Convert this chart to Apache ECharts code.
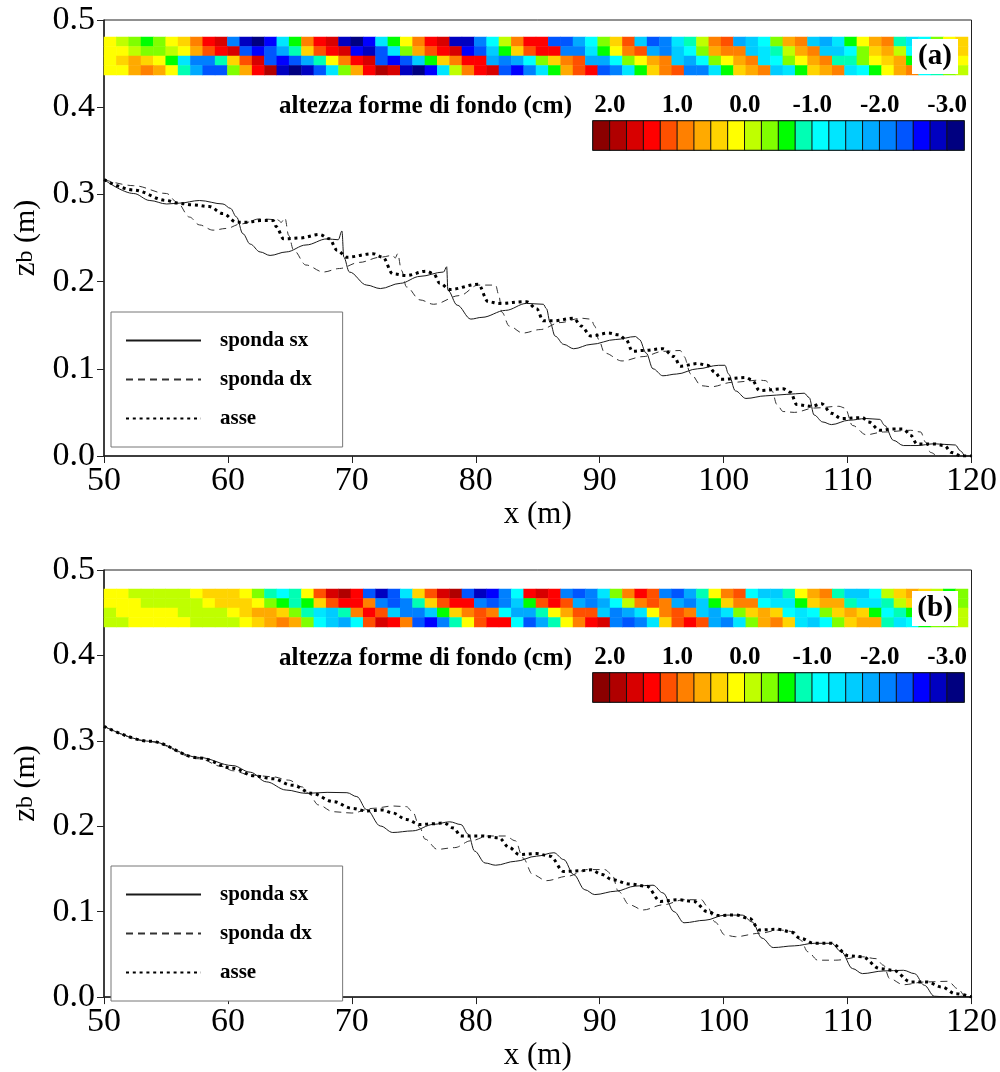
<!DOCTYPE html>
<html><head><meta charset="utf-8">
<script src="https://cdn.jsdelivr.net/npm/echarts@6/dist/echarts.min.js"></script>
<style>html,body{margin:0;padding:0;background:#fff}#c{width:1000px;height:1072px}</style>
</head><body><div id="c"></div>
<script>
// ---------------- DATA ----------------
const xTickValues = [50, 60, 70, 80, 90, 100, 110, 120];
const yTickValues = [0, 0.1, 0.2, 0.3, 0.4, 0.5];
const legendNames = ['sponda sx', 'sponda dx', 'asse'];
const colorbarTicks = [2, 1, 0, -1, -2, -3];
const colorbarTitle = 'altezza forme di fondo (cm)';
const panelLabels = ['(a)', '(b)'];

// panel (a)
const sxA = [[50.0,0.317],[52.4,0.301],[53.7,0.293],[55.05,0.289],[56.1,0.290],[57.7,0.293],[59.6,0.289],[60.2,0.284],[60.7,0.274],[61.2,0.255],[61.8,0.243],[62.6,0.234],[63.4,0.230],[64.7,0.234],[66.3,0.242],[68.0,0.249],[68.9,0.248],[69.2,0.258],[69.35,0.228],[69.8,0.211],[71.2,0.196],[72.3,0.192],[73.9,0.198],[75.5,0.206],[77.4,0.211],[77.65,0.217],[77.75,0.190],[78.5,0.173],[79.6,0.157],[80.5,0.159],[82.4,0.167],[84.1,0.175],[85.45,0.174],[85.7,0.169],[86.0,0.153],[86.4,0.1375],[87.1,0.128],[87.9,0.123],[89.3,0.128],[91.3,0.1336],[92.9,0.137],[93.2,0.1336],[93.75,0.118],[94.3,0.100],[95.1,0.092],[96.2,0.094],[97.9,0.100],[99.6,0.104],[100.1,0.104],[100.4,0.094],[100.95,0.0747],[101.8,0.066],[103.4,0.069],[105.1,0.0707],[106.5,0.072],[106.9,0.067],[107.3,0.047],[108.0,0.039],[108.7,0.036],[110.1,0.041],[111.5,0.043],[112.6,0.042],[113.0,0.035],[113.7,0.018],[114.5,0.012],[115.6,0.012],[117.0,0.014],[118.7,0.0126],[119.1,0.006],[119.5,0.0],[120,0.0]];
const dxA = [[50.0,0.317],[52.4,0.310],[55.05,0.301],[55.9,0.291],[56.9,0.274],[57.7,0.265],[58.8,0.259],[59.9,0.261],[61.0,0.266],[62.6,0.272],[64.0,0.271],[64.3,0.268],[64.6,0.273],[64.9,0.253],[65.3,0.236],[66.3,0.219],[67.7,0.211],[69.0,0.215],[70.6,0.222],[72.3,0.228],[73.3,0.230],[73.5,0.227],[73.7,0.232],[74.0,0.213],[74.4,0.194],[75.5,0.179],[76.6,0.174],[78.7,0.184],[80.2,0.196],[81.6,0.196],[81.85,0.185],[82.1,0.165],[82.7,0.149],[83.8,0.141],[85.2,0.145],[86.8,0.153],[88.5,0.158],[89.3,0.157],[89.6,0.149],[89.9,0.134],[90.4,0.118],[91.8,0.109],[93.5,0.114],[95.1,0.120],[96.5,0.121],[96.8,0.114],[97.35,0.094],[98.2,0.0806],[99.0,0.0794],[100.7,0.0845],[102.9,0.087],[103.4,0.0864],[103.9,0.0747],[104.3,0.059],[104.8,0.051],[105.7,0.050],[107.3,0.055],[109.3,0.057],[109.8,0.055],[110.4,0.035],[111.5,0.0244],[112.9,0.0275],[115.1,0.0295],[115.9,0.0275],[116.3,0.0157],[116.7,0.004],[117.3,0.0],[120,0.0]];
const axA = [[50.0,0.317],[52.4,0.305],[55.05,0.293],[55.9,0.290],[57.2,0.288],[58.5,0.286],[59.6,0.278],[60.7,0.268],[61.5,0.268],[62.6,0.270],[63.65,0.270],[63.9,0.263],[64.5,0.249],[65.8,0.250],[67.4,0.254],[68.2,0.249],[68.8,0.236],[69.6,0.228],[71.7,0.232],[72.5,0.228],[73.3,0.209],[74.4,0.207],[76.0,0.212],[76.6,0.209],[77.1,0.198],[77.9,0.191],[80.2,0.197],[81.0,0.177],[81.85,0.175],[84.1,0.177],[84.9,0.169],[85.45,0.155],[86.3,0.155],[87.9,0.158],[88.5,0.149],[89.3,0.1375],[90.7,0.141],[91.5,0.139],[92.1,0.134],[92.65,0.120],[93.5,0.121],[95.1,0.123],[96.0,0.114],[96.5,0.103],[97.9,0.106],[98.7,0.104],[99.3,0.096],[99.8,0.088],[101.8,0.090],[102.3,0.087],[102.9,0.075],[104.8,0.077],[105.4,0.073],[105.9,0.059],[107.1,0.057],[107.9,0.060],[108.7,0.049],[109.5,0.043],[111.2,0.044],[111.7,0.039],[112.6,0.0295],[113.7,0.031],[114.5,0.031],[115.1,0.0236],[115.6,0.0138],[117.0,0.0138],[117.8,0.012],[118.4,0.004],[119.2,0.0],[120,0.0]];

// panel (b)
const sxB = [[50.0,0.317],[53.7,0.2995],[57.7,0.2805],[60.4,0.271],[61.8,0.2633],[63.1,0.252],[64.7,0.2424],[66.3,0.2385],[68.0,0.2397],[69.6,0.2393],[70.4,0.2347],[71.2,0.2194],[72.3,0.2003],[73.3,0.1927],[74.9,0.1946],[76.6,0.2022],[77.9,0.2052],[78.8,0.202],[79.4,0.1906],[79.9,0.171],[80.75,0.157],[81.6,0.1544],[83.2,0.159],[84.9,0.165],[86.3,0.169],[87.1,0.161],[87.9,0.1434],[88.8,0.1257],[89.6,0.12],[91.3,0.124],[92.9,0.13],[94.3,0.131],[95.1,0.122],[96.0,0.100],[96.8,0.087],[98.5,0.090],[100.1,0.096],[101.5,0.096],[102.3,0.088],[103.1,0.069],[104.0,0.058],[105.7,0.060],[107.3,0.063],[108.7,0.063],[109.5,0.053],[110.4,0.0334],[111.2,0.0275],[112.9,0.0306],[114.5,0.0314],[115.4,0.0275],[116.2,0.0138],[117.0,0.001],[118.4,0.0],[119.2,0.001],[120,0.0]];
const dxB = [[50.0,0.317],[53.7,0.299],[57.7,0.279],[59.5,0.270],[60.4,0.265],[61.8,0.260],[63.6,0.258],[64.9,0.254],[66.0,0.246],[66.5,0.2385],[67.3,0.225],[68.5,0.217],[70.0,0.2155],[71.7,0.221],[73.3,0.2237],[74.4,0.223],[74.9,0.217],[75.5,0.198],[75.9,0.185],[76.9,0.173],[78.3,0.175],[79.6,0.183],[81.0,0.1886],[82.4,0.1886],[83.2,0.183],[83.8,0.163],[84.6,0.1434],[85.7,0.1363],[87.4,0.1415],[89.0,0.1493],[90.4,0.1493],[91.0,0.1434],[91.5,0.124],[92.4,0.108],[93.5,0.102],[95.1,0.108],[96.8,0.114],[98.2,0.114],[98.7,0.106],[99.3,0.088],[100.1,0.0727],[100.95,0.0707],[102.9,0.0747],[104.5,0.0786],[105.7,0.0766],[106.2,0.0668],[106.8,0.053],[107.6,0.0432],[109.0,0.0432],[111.2,0.0472],[112.3,0.045],[112.9,0.0373],[113.4,0.0216],[114.5,0.0145],[116.2,0.0177],[118.1,0.0185],[118.9,0.0098],[119.5,0.001],[120,0.0]];
const axB = [[50.0,0.317],[53.7,0.2995],[57.7,0.280],[60.4,0.268],[62.1,0.259],[63.6,0.2557],[65.2,0.248],[66.8,0.2385],[68.5,0.2289],[70.0,0.221],[71.2,0.218],[72.5,0.219],[73.3,0.2155],[74.4,0.208],[75.5,0.202],[76.6,0.203],[77.4,0.204],[78.2,0.198],[78.8,0.1886],[80.5,0.1886],[81.85,0.1866],[82.7,0.175],[83.5,0.167],[84.9,0.168],[86.0,0.165],[87.1,0.147],[88.5,0.148],[89.3,0.149],[90.2,0.1434],[91.0,0.1375],[92.4,0.1324],[93.8,0.1297],[94.9,0.112],[96.3,0.114],[97.6,0.112],[98.7,0.100],[99.6,0.0955],[100.95,0.0963],[102.1,0.092],[102.9,0.0786],[104.3,0.0794],[105.4,0.0766],[106.2,0.0688],[107.3,0.063],[108.7,0.063],[110.1,0.0483],[111.2,0.0472],[112.6,0.0334],[113.7,0.0314],[115.1,0.0177],[116.4,0.0177],[117.6,0.0118],[118.7,0.004],[120,0.0]];

// bed-form strip levels (a = level 0 dark red ... i = level 8 yellow ... v = level 21 navy), 4 rows top->bottom, 1 m columns
const stripA = [
  'ijklkihfdc' + 'ruvtolfdcu' + 'vtolifdcuu' + 'rnjfddssqn' + 'khepsromjf' + 'eqpnkgfpqo' + 'ligfmonkih',
  'iijkkjiged' + 'cstsqmhedc' + 'tusokgedct' + 'splheddrro' + 'lifeqrpnkg' + 'ffpomjgfpp' + 'nkhgjnmkih',
  'ihghilorrm' + 'hecstsqmif' + 'dcstsplhfd' + 'dqrqnkhfeq' + 'qnkigfpqnk' + 'igfonkigfm' + 'mkihglmkji',
  'iigfgimqss' + 'kgdbuvusok' + 'gdbcuvtojf' + 'dcstrolged' + 'srolhferro' + 'lhgfpolhgf' + 'onligfnmkj'
];
const stripB = [
  'iijjjjjihh' + 'hikmnmiecb' + 'dsusohecbs' + 'utrndcdrsr' + 'okfdersqmi' + 'fenppmigfm' + 'ppnjhghjlk',
  'iiijjjjjih' + 'hhiklmlhed' + 'dfrsrmhedd' + 'rsrpledeqr' + 'qnjfefqrpl' + 'hffnoolhgg' + 'moomjhhijk',
  'jiiiiijjjj' + 'ihgghkmopm' + 'fdeprrplhf' + 'efnqqmigee' + 'prqoifefpq' + 'okhghnonkh' + 'ghlnmlkkjj',
  'jjiiiiijjj' + 'jihgfgknpq' + 'necdfstrmi' + 'eddnsqmifd' + 'crsrohedeq' + 'rokgfhopnk' + 'hggmonlkkj'
];
const levelColors = ['#8b0000','#b00000','#d80000','#ff0000','#ff5000','#ff8000','#ffaa00','#ffd400','#ffff00','#bfff00','#80ff00','#00ff00','#00ffb4','#00ffff','#00e6ff','#00ccff','#00aaff','#0080ff','#0055ff','#0000ff','#0000c0','#000080'];
const colorbarLevels = [0,1,2,3,4,5,6,7,8,9,10,11,12,13,14,15,16,17,18,19,20,21];

// ---------------- BUILD ----------------
const FONT = 'Liberation Serif, Times New Roman, serif';
const stripToData = rows => {
  const out = [];
  rows.forEach((row, r) => { for (let c = 0; c < row.length; c++) out.push([c, r, row.charCodeAt(c) - 97]); });
  return out;
};
const stripCols = stripA[0].split('').map((_, i) => String(i));
const cbCols = colorbarLevels.map(String);

const chart = echarts.init(document.getElementById('c'), null, {renderer: 'canvas'});

const panels = [
  {top: 20, strip: stripA, s: [sxA, dxA, axA], legendTop: 312, stripTop: 37, cbTop: 121},
  {top: 570, strip: stripB, s: [sxB, dxB, axB], legendTop: 866, stripTop: 589, cbTop: 673}
];

const grid = [], xAxis = [], yAxis = [], series = [], legend = [], graphic = [];
const heatIdx = [];

panels.forEach(p => {
  grid.push({left: 104, right: 28, top: p.top, height: 436, show: true, borderColor: '#222', borderWidth: 1, backgroundColor: 'transparent'});
});
panels.forEach(p => {
  grid.push({left: 104, width: 864, top: p.stripTop, height: 38});
});
panels.forEach(p => {
  grid.push({left: 593, width: 371, top: p.cbTop, height: 29, show: true, borderColor: '#1e4848', borderWidth: 1.5});
});

// main axes
panels.forEach((p, k) => {
  xAxis.push({
    type: 'value', gridIndex: k, min: 50, max: 120, interval: 10,
    name: 'x (m)', nameLocation: 'middle', nameGap: 31,
    nameTextStyle: {fontFamily: FONT, fontSize: 31, color: '#000'},
    axisLine: {show: true, lineStyle: {color: '#222', width: 1.5}},
    axisTick: {show: true, inside: false, length: 7, lineStyle: {color: '#222', width: 1}},
    axisLabel: {fontFamily: FONT, fontSize: 34, color: '#000', margin: 8},
    splitLine: {show: false}
  });
  yAxis.push({
    type: 'value', gridIndex: k, min: 0, max: 0.5, interval: 0.1,
    name: '{z|z}{b|b} (m)', nameLocation: 'middle', nameGap: 62, nameRotate: 90,
    nameTextStyle: {fontFamily: FONT, fontSize: 30, color: '#000', rich: {z: {fontFamily: FONT, fontSize: 31, color: '#000'}, b: {fontFamily: FONT, fontSize: 24, color: '#000'}}},
    axisLine: {show: true, lineStyle: {color: '#222', width: 1.5}},
    axisTick: {show: true, inside: false, length: 7, lineStyle: {color: '#222', width: 1}},
    axisLabel: {fontFamily: FONT, fontSize: 34, color: '#000', margin: 9, formatter: v => v.toFixed(1)},
    splitLine: {show: false}
  });
});
// strip axes
panels.forEach((p, k) => {
  xAxis.push({type: 'category', gridIndex: 2 + k, data: stripCols, show: false, boundaryGap: true});
  yAxis.push({type: 'category', gridIndex: 2 + k, data: ['0','1','2','3'], inverse: true, show: false});
});
// colorbar axes
panels.forEach((p, k) => {
  xAxis.push({type: 'category', gridIndex: 4 + k, data: cbCols, show: false});
  yAxis.push({type: 'category', gridIndex: 4 + k, data: ['0'], show: false});
});
panels.forEach((p, k) => {
  xAxis.push({
    type: 'value', gridIndex: 4 + k, position: 'top', inverse: true, min: -3.25, max: 2.25,
    axisLine: {show: false}, axisTick: {show: false}, splitLine: {show: false},
    axisLabel: {show: true, customValues: colorbarTicks, formatter: v => v.toFixed(1),
      fontFamily: FONT, fontSize: 25, fontWeight: 'bold', color: '#000', margin: 3}
  });
});

// line series
const lineStyles = [
  {color: '#1a1a1a', width: 1, type: 'solid'},
  {color: '#333', width: 1, type: [7, 5]},
  {color: '#000', width: 3, type: [3, 3.8]}
];
panels.forEach((p, k) => {
  p.s.forEach((d, j) => {
    series.push({
      type: 'line', name: legendNames[j], xAxisIndex: k, yAxisIndex: k, data: d,
      symbol: 'none', smooth: 0.35, smoothMonotone: 'x',
      lineStyle: lineStyles[j], itemStyle: {color: lineStyles[j].color}, z: 3
    });
  });
});
// strip heatmaps
panels.forEach((p, k) => {
  heatIdx.push(series.length);
  series.push({type: 'heatmap', xAxisIndex: 2 + k, yAxisIndex: 2 + k, data: stripToData(p.strip), itemStyle: {borderWidth: 0}, emphasis: {disabled: true}});
});
// colorbars
panels.forEach((p, k) => {
  heatIdx.push(series.length);
  series.push({type: 'heatmap', xAxisIndex: 4 + k, yAxisIndex: 4 + k,
    data: colorbarLevels.map((lv, i) => [i, 0, lv]),
    itemStyle: {borderColor: '#111', borderWidth: 1}, emphasis: {disabled: true}});
});

// legends
panels.forEach(p => {
  legend.push({
    data: legendNames, orient: 'vertical', left: 111, top: p.legendTop,
    itemWidth: 75, itemHeight: 14, itemGap: 18, itemTextGap: 20,
    padding: [18, 31, 18, 14], borderColor: '#777', borderWidth: 1, backgroundColor: '#fff',
    selectedMode: false,
    itemStyle: {opacity: 0},
    textStyle: {fontFamily: FONT, fontSize: 21, fontWeight: 'bold', color: '#000', padding: [0, 0, 0, 14]}
  });
});

// texts: colorbar title and panel label boxes
panels.forEach((p, k) => {
  graphic.push({type: 'text', x: 572, y: p.cbTop - 14, style: {text: colorbarTitle, font: 'bold 25px ' + FONT, fill: '#000', align: 'right', verticalAlign: 'middle'}, z: 10});
  graphic.push({type: 'rect', x: 912, y: p.stripTop + 2, shape: {width: 46, height: 35}, style: {fill: '#fff'}, z: 10});
  graphic.push({type: 'text', x: 935, y: p.stripTop + 20, style: {text: panelLabels[k], font: 'bold 29px ' + FONT, fill: '#000', align: 'center', verticalAlign: 'middle'}, z: 11});
});

const pieces = levelColors.map((c, i) => ({value: i, color: c}));

chart.setOption({
  animation: false,
  backgroundColor: '#fff',
  grid, xAxis, yAxis, series, legend, graphic,
  visualMap: [{type: 'piecewise', show: false, seriesIndex: heatIdx, dimension: 2, pieces: pieces}]
});
</script>
</body></html>
